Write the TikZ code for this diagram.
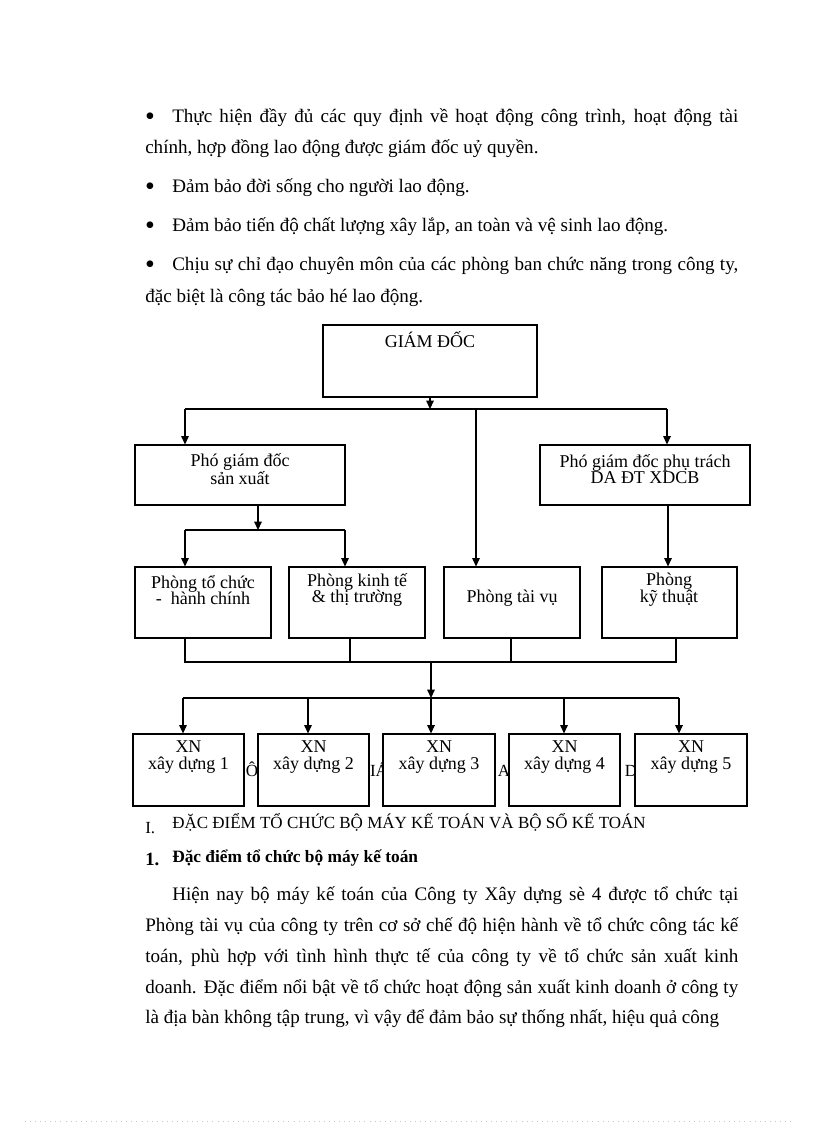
\documentclass[tikz,border=0pt]{standalone}
\usepackage{fontspec}
\setmainfont{Liberation Serif}
\usetikzlibrary{fit,arrows.meta}
\begin{document}
\begin{tikzpicture}[x=0.75pt,y=-0.75pt,
  box/.style={draw,line width=0.8pt,fill=white,inner sep=0pt},
  arr/.style={line width=0.8pt,-{Triangle[length=6.2pt,width=5.6pt]}},
  ln/.style={line width=0.8pt},
  btxt/.style={inner sep=0pt,align=center,font=\fontsize{13.5}{12.5}\selectfont},
  body/.style={inner sep=0pt,anchor=mid west,font=\fontsize{14.3}{17}\selectfont},
  bul/.style={inner sep=0pt,anchor=center,font=\fontsize{21}{21}\selectfont},
  small/.style={inner sep=0pt,anchor=base west,font=\fontsize{12.75}{15}\selectfont},
  stray/.style={inner sep=0pt,anchor=base,font=\fontsize{12.75}{15}\selectfont},
  bold/.style={inner sep=0pt,anchor=base west,font=\fontsize{13}{15}\selectfont\bfseries},
]
\useasboundingbox (0,0) rectangle (816,1123);
\fill[white] (0,0) rectangle (816,1123);

% ---------- top bullets ----------
\node[bul] (u1) at (150,119) {•};
\node[body] (p1a) at (172,119) {\makebox[424.5pt][s]{Thực hiện đầy đủ các quy định về hoạt động công trình, hoạt động tài}};
\node[body] (p1b) at (145,150) {chính, hợp đồng lao động được giám đốc uỷ quyền.};
\node[bul] (u2) at (150,189) {•};
\node[body] (p2) at (172,189) {Đảm bảo đời sống cho người lao động.};
\node[bul] (u3) at (150,228) {•};
\node[body] (p3) at (172,228) {Đảm bảo tiến độ chất lượng xây lắp, an toàn và vệ sinh lao động.};
\node[bul] (u4) at (150,267) {•};
\node[body] (p4a) at (172,267) {\makebox[424.5pt][s]{Chịu sự chỉ đạo chuyên môn của các phòng ban chức năng trong công ty,}};
\node[body] (p4b) at (145,299) {đặc biệt là công tác bảo hé lao động.};

% ---------- stray characters (hidden text behind boxes) ----------
\node[stray] (s1) at (252,776) {Ô};
\node[stray] (s2) at (379,776) {IÁ};
\node[stray] (s3) at (504,776) {A};
\node[stray] (s4) at (631,776) {D};

% ---------- boxes ----------
\node[box,fit={(323,325)(537,397)}] (gd) {};
\node[box,fit={(135,445)(345,505)}] (pgd1) {};
\node[box,fit={(540,445)(750,505)}] (pgd2) {};
\node[box,fit={(135,567)(271,638)}] (ptc) {};
\node[box,fit={(289,567)(425,638)}] (pkt) {};
\node[box,fit={(444,567)(580,638)}] (ptv) {};
\node[box,fit={(602,567)(737,638)}] (pkth) {};
\node[box,fit={(133,734)(244,806)}] (xn1) {};
\node[box,fit={(258,734)(369,806)}] (xn2) {};
\node[box,fit={(383,734)(495,806)}] (xn3) {};
\node[box,fit={(509,734)(620,806)}] (xn4) {};
\node[box,fit={(635,734)(747,806)}] (xn5) {};

% ---------- box texts ----------
\node[btxt] (gdt) at (430,340) {GIÁM ĐỐC};
\node[btxt] (pgd1t) at (240,469) {Phó giám đốc\\sản xuất};
\node[btxt] (pgd2t) at (645,469) {Phó giám đốc phụ trách\\DA ĐT XDCB};
\node[btxt] (ptct) at (203,590) {Phòng tổ chức\\-\ \ hành chính};
\node[btxt] (pktt) at (357,590) {Phòng kinh tế\\\& thị trường};
\node[btxt] (ptvt) at (512,598) {Phòng tài vụ};
\node[btxt] (pktht) at (669,590) {Phòng\\kỹ thuật};
\node[btxt] (xn1t) at (188.5,757) {XN\\xây dựng 1};
\node[btxt] (xn2t) at (313.5,757) {XN\\xây dựng 2};
\node[btxt] (xn3t) at (439,757) {XN\\xây dựng 3};
\node[btxt] (xn4t) at (564.5,757) {XN\\xây dựng 4};
\node[btxt] (xn5t) at (691,757) {XN\\xây dựng 5};

% ---------- bus coordinates ----------
\coordinate (b1L) at (185,409);
\coordinate (b1M) at (476,409);
\coordinate (b1R) at (667,409);
\coordinate (b2M) at (258,530);
\coordinate (b2L) at (185,530);
\coordinate (b2R) at (345,530);
\coordinate (b3L) at (185,662);
\coordinate (b3a) at (350,662);
\coordinate (b3b) at (511,662);
\coordinate (b3R) at (676,662);
\coordinate (b3M) at (431,662);
\coordinate (b4M) at (431,698);
\coordinate (b4L) at (183,698);
\coordinate (b4b) at (308,698);
\coordinate (b4d) at (564,698);
\coordinate (b4R) at (679,698);
\coordinate (k2) at (668,505);

% ---------- connectors ----------
\draw[arr] (gd.south) -- (gd.south |- b1L);
\draw[ln] (b1L) -- (b1R);
\draw[arr] (b1L) -- (b1L |- pgd1.north);
\draw[arr] (b1R) -- (b1R |- pgd2.north);
\draw[arr] (b1M) -- (b1M |- ptv.north);

\draw[arr] (pgd1.south -| b2M) -- (b2M);
\draw[ln] (b2L) -- (b2R);
\draw[arr] (b2L) -- (b2L |- ptc.north);
\draw[arr] (b2R) -- (b2R |- pkt.north);

\draw[arr] (k2) -- (k2 |- pkth.north);

\draw[ln] (ptc.south -| b3L) -- (b3L) -- (b3R) -- (pkth.south -| b3R);
\draw[ln] (pkt.south -| b3a) -- (b3a);
\draw[ln] (ptv.south -| b3b) -- (b3b);
\draw[arr] (b3M) -- (b4M);
\draw[ln] (b4L) -- (b4R);
\draw[arr] (b4L) -- (b4L |- xn1.north);
\draw[arr] (b4b) -- (b4b |- xn2.north);
\draw[arr] (b4M) -- (b4M |- xn3.north);
\draw[arr] (b4d) -- (b4d |- xn4.north);
\draw[arr] (b4R) -- (b4R |- xn5.north);

% ---------- section headings ----------
\node[small] (h1n) at (145,833) {I.};
\node[small] (h1) at (172,828) {ĐẶC ĐIỂM TỔ CHỨC BỘ MÁY KẾ TOÁN VÀ BỘ SỔ KẾ TOÁN};
\node[bold,font=\fontsize{14}{15}\selectfont\bfseries] (h2n) at (145,865) {1.};
\node[bold] (h2) at (172,862) {Đặc điểm tổ chức bộ máy kế toán};

% ---------- paragraph ----------
\node[body] (q1) at (172,897) {\makebox[424.5pt][s]{Hiện nay bộ máy kế toán của Công ty Xây dựng sè 4 được tổ chức tại}};
\node[body] (q2) at (145,928) {\makebox[444.75pt][s]{Phòng tài vụ của công ty trên cơ sở chế độ hiện hành về tổ chức công tác kế}};
\node[body] (q3) at (145,959) {\makebox[444.75pt][s]{toán, phù hợp với tình hình thực tế của công ty về tổ chức sản xuất kinh}};
\node[body] (q4) at (145,990) {\makebox[444.75pt][s]{doanh. Đặc điểm nổi bật về tổ chức hoạt động sản xuất kinh doanh ở công ty}};
\node[body] (q5) at (145,1020) {là địa bàn không tập trung, vì vậy để đảm bảo sự thống nhất, hiệu quả công};

% ---------- faint page border ----------
\draw[gray!45,line width=0.5pt,dash pattern=on 0.6pt off 3.2pt] (25,1121) -- (792,1121);
\end{tikzpicture}
\end{document}
